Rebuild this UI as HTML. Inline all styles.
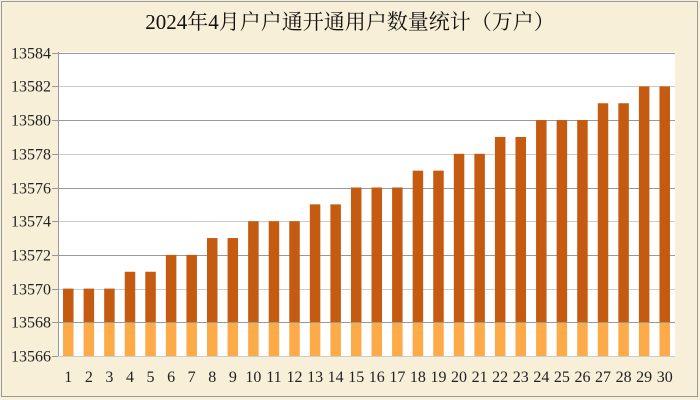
<!DOCTYPE html>
<html><head><meta charset="utf-8"><style>
html,body{margin:0;padding:0;background:#f8efd8;}
svg{display:block;}
</style></head><body>
<svg width="700" height="400" xmlns="http://www.w3.org/2000/svg">
<rect x="0" y="0" width="700" height="400" fill="#f8efd8"/>
<rect x="1.5" y="1.5" width="696" height="395" fill="none" stroke="#999" stroke-width="1"/>
<text x="350" y="29" text-anchor="middle" font-family="'Liberation Serif','Noto Serif CJK SC',serif" font-size="21" fill="#111">2024年4月户户通开通用户数量统计（万户）</text>
<rect x="58" y="52" width="617" height="304" fill="#fff"/>
<g id="grid"></g>
<g id="bars"></g>
<g id="labels" font-family="'Liberation Serif',serif" font-size="16" fill="#222"></g>
<script>
(function(){
var ns="http://www.w3.org/2000/svg";
function y(v){return 356-(v-13566)*16.85;}
var g=document.getElementById('grid'),b=document.getElementById('bars'),l=document.getElementById('labels');
function el(p,t,a,txt){var e=document.createElementNS(ns,t);for(var k in a)e.setAttribute(k,a[k]);if(txt!==undefined)e.textContent=txt;p.appendChild(e);}
for(var v=13566;v<=13584;v+=2){
 var yy=Math.round(y(v))+0.5;
 var dark=((v-13566)/2)%2==1;
 el(g,'line',{x1:58,x2:675,y1:yy,y2:yy,stroke:dark?'#999':'#ccc','stroke-width':1});
 el(g,'line',{x1:52,x2:58,y1:yy,y2:yy,stroke:'#999'});
 el(l,'text',{x:51,y:yy+5,'text-anchor':'end'},String(v));
}
el(g,'line',{x1:58.5,x2:58.5,y1:52,y2:356,stroke:'#999'});
var vals=[70,70,70,71,71,72,72,73,73,74,74,74,75,75,76,76,76,77,77,78,78,79,79,80,80,80,81,81,82,82];
var w=617/30;
for(var i=0;i<30;i++){
 var cx=58+w*(i+0.5),bw=10.5,x0=cx-bw/2;
 var tp=y(13500+vals[i]);
 el(b,'rect',{x:x0,y:tp,width:bw,height:y(13568)-tp,fill:'#c55a11'});
 el(b,'rect',{x:x0,y:y(13568),width:bw,height:356-y(13568),fill:'#fdaa48'});
 el(l,'text',{x:cx,y:382,'text-anchor':'middle'},String(i+1));
}
var yy=Math.round(y(13568))+0.5;
el(b,'line',{x1:58,x2:675,y1:yy,y2:yy,stroke:'#999'});
})();
</script>
</svg>
</body></html>
